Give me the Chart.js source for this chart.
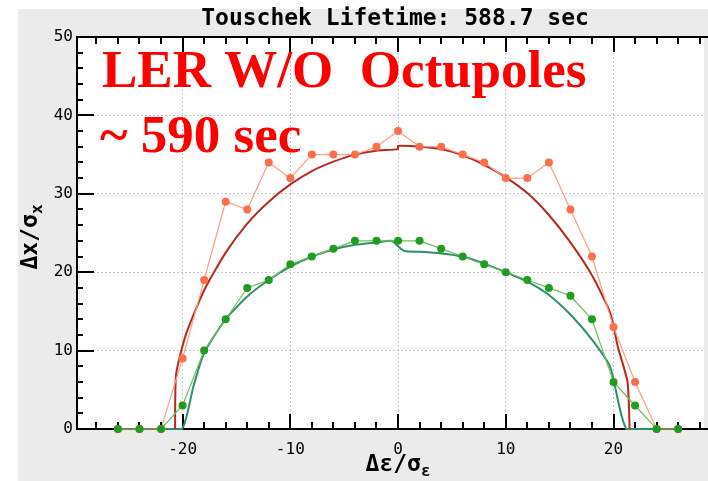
<!DOCTYPE html>
<html>
<head>
<meta charset="utf-8">
<script src="https://cdn.jsdelivr.net/npm/chart.js@4.4.1/dist/chart.umd.min.js"></script>
<style>
  html, body { margin: 0; padding: 0; background: #fff; overflow: hidden; }
  canvas { display: block; }
</style>
</head>
<body>
<canvas id="chart" width="708" height="481"></canvas>
<script>
// measured points (even steps of delta-e / sigma-e)
const xPoints = [-26, -24, -22, -20, -18, -16, -14, -12, -10, -8, -6, -4, -2, 0,
                 2, 4, 6, 8, 10, 12, 14, 16, 18, 20, 22, 24, 26];
const orangeY = [0, 0, 0, 9, 19, 29, 28, 34, 32, 35, 35, 35, 36, 38,
                 36, 36, 35, 34, 32, 32, 34, 28, 22, 13, 6, 0, 0];
const greenY = [0, 0, 0, 3, 10, 14, 18, 19, 21, 22, 23, 24, 24, 24,
                24, 23, 22, 21, 20, 19, 18, 17, 14, 6, 3, 0, 0];

// smooth curves
const redCurveX = [-20.7, -20.6, -19.7, -18, -16, -14, -12, -10, -8, -6, -4, -2, 0, 0,
                   2, 4, 6, 8, 10, 12, 14, 16, 18, 19.7, 20.4, 21.3, 21.5];
const redCurveY = [0, 7, 12, 17.7, 22.5, 26.2, 29, 31.2, 32.9, 34.1, 35, 35.5, 35.7, 36.1,
                   36, 35.7, 34.9, 33.7, 32.1, 30.1, 27.3, 23.8, 19.6, 14.8, 10.5, 6, 0];
const tealCurveX = [-22, -20.05, -19, -18, -16, -14, -12, -10, -8, -6, -4, -2, -0.6, 0, 0.6,
                    2, 4, 6, 8, 10, 12, 14, 16, 18, 19.7, 21.2, 24];
const tealCurveY = [0, 0, 5.4, 9.7, 14, 16.9, 19, 20.7, 22, 22.9, 23.5, 23.8, 24, 23.3, 22.7,
                    22.6, 22.4, 22, 21.1, 20, 18.8, 17.1, 14.6, 11.4, 7.9, 0, 0];

const xTicks = [-20, -10, 0, 10, 20];
const yTicks = [0, 10, 20, 30, 40, 50];

const titleText = "Touschek Lifetime: 588.7 sec";
const noteLines = ["LER W/O  Octupoles", "~ 590 sec"];

function pairs(xs, ys) {
  return xs.map((x, i) => ({ x: x, y: ys[i] }));
}

function drawSub(ctx, main, sub, x, y, size) {
  // main text + lowered subscript, centred on x
  const subSize = Math.round(size * 0.7);
  ctx.font = "bold " + size + "px 'DejaVu Sans Mono'";
  const w1 = ctx.measureText(main).width;
  ctx.font = "bold " + subSize + "px 'DejaVu Sans Mono'";
  const w2 = ctx.measureText(sub).width;
  const left = x - (w1 + w2) / 2;
  ctx.textAlign = "left";
  ctx.textBaseline = "middle";
  ctx.font = "bold " + size + "px 'DejaVu Sans Mono'";
  ctx.fillText(main, left, y);
  ctx.font = "bold " + subSize + "px 'DejaVu Sans Mono'";
  ctx.fillText(sub, left + w1, y + size * 0.3);
}

const decor = {
  id: "decor",
  beforeDraw(chart) {
    const ctx = chart.ctx, a = chart.chartArea;
    ctx.save();
    ctx.fillStyle = "#ffffff";
    ctx.fillRect(0, 0, chart.width, chart.height);
    ctx.fillStyle = "#ebebeb";
    ctx.fillRect(18, 9, chart.width - 18, chart.height - 9);
    ctx.fillStyle = "#ffffff";
    ctx.fillRect(a.left, a.top, a.right - a.left, a.bottom - a.top);
    ctx.restore();
  },
  beforeDatasetsDraw(chart) {
    const ctx = chart.ctx, a = chart.chartArea;
    const xs = chart.scales.x, ys = chart.scales.y;
    ctx.save();
    ctx.strokeStyle = "#000";
    ctx.lineWidth = 2;
    ctx.setLineDash([]);
    ctx.beginPath();
    ctx.moveTo(chart.width + 2, a.top);
    ctx.lineTo(a.left, a.top);
    ctx.lineTo(a.left, a.bottom);
    ctx.lineTo(chart.width + 2, a.bottom);
    ctx.stroke();

    // x ticks, bottom and top
    for (let v = -28; v <= 28; v += 2) {
      const px = Math.round(xs.getPixelForValue(v));
      if (px <= a.left + 1 || px > a.right) continue;
      const len = v % 10 === 0 ? 15 : 7;
      ctx.beginPath();
      ctx.moveTo(px, a.bottom);
      ctx.lineTo(px, a.bottom - len);
      ctx.moveTo(px, a.top);
      ctx.lineTo(px, a.top + len);
      ctx.stroke();
    }
    // y ticks, left
    for (let v = 2; v < 50; v += 2) {
      const py = Math.round(ys.getPixelForValue(v));
      const len = v % 10 === 0 ? 17 : 6;
      ctx.beginPath();
      ctx.moveTo(a.left, py);
      ctx.lineTo(a.left + len, py);
      ctx.stroke();
    }
    ctx.restore();
  },
  afterDraw(chart) {
    const ctx = chart.ctx, a = chart.chartArea;
    const xs = chart.scales.x;
    const cx = xs.getPixelForValue(0);
    ctx.save();
    ctx.fillStyle = "#000";
    ctx.textAlign = "center";
    ctx.textBaseline = "middle";
    ctx.font = "bold 23px 'DejaVu Sans Mono'";
    ctx.fillText(titleText, cx - 3, 19);

    drawSub(ctx, "\u0394\u03b5/\u03c3", "\u03b5", cx, 465, 23);

    ctx.translate(31, (a.top + a.bottom) / 2 + 4);
    ctx.rotate(-Math.PI / 2);
    drawSub(ctx, "\u0394x/\u03c3", "x", 0, 0, 23);
    ctx.restore();

    ctx.save();
    ctx.fillStyle = "#ff0000";
    ctx.textAlign = "left";
    ctx.textBaseline = "alphabetic";
    ctx.font = "bold 53px 'Liberation Serif'";
    ctx.fillText(noteLines[0], 102, 87);
    ctx.fillText(noteLines[1], 100, 152);
    ctx.restore();
  }
};

new Chart(document.getElementById("chart"), {
  type: "scatter",
  data: {
    datasets: [
      {
        data: pairs(xPoints, greenY),
        showLine: true,
        borderColor: "#6cbf5c",
        borderWidth: 1.2,
        pointRadius: 4,
        pointBackgroundColor: "#239a23",
        pointBorderWidth: 0,
        clip: 8
      },
      {
        data: pairs(xPoints, orangeY),
        showLine: true,
        borderColor: "#ff9c84",
        borderWidth: 1.2,
        pointRadius: 4,
        pointBackgroundColor: "#ff6e4c",
        pointBorderWidth: 0,
        clip: 8
      },
      {
        data: pairs(redCurveX, redCurveY),
        showLine: true,
        borderColor: "#b8281f",
        borderWidth: 2,
        pointRadius: 0,
        tension: 0.2,
        clip: 8
      },
      {
        data: pairs(tealCurveX, tealCurveY),
        showLine: true,
        borderColor: "#2f8f6a",
        borderWidth: 2,
        pointRadius: 0,
        tension: 0.2,
        clip: 8
      }
    ]
  },
  options: {
    responsive: false,
    animation: false,
    devicePixelRatio: 1,
    layout: { padding: { top: 37, left: 0, right: 0, bottom: 0 } },
    plugins: {
      legend: { display: false },
      title: { display: false },
      tooltip: { enabled: false }
    },
    scales: {
      x: {
        type: "linear",
        min: -29.8,
        max: 28.4,
        afterBuildTicks: s => { s.ticks = xTicks.map(v => ({ value: v })); },
        afterFit: s => { s.height = 52; },
        grid: { color: "#c8c8c8", lineWidth: 1, drawTicks: false },
        border: { display: false, dash: [2, 2] },
        ticks: {
          padding: 11,
          color: "#000",
          maxRotation: 0,
          autoSkip: false,
          font: { family: "'DejaVu Sans Mono'", size: 16 }
        }
      },
      y: {
        min: 0,
        max: 50,
        afterBuildTicks: s => { s.ticks = yTicks.map(v => ({ value: v })); },
        afterFit: s => { s.width = 77; },
        grid: { color: "#c8c8c8", lineWidth: 1, drawTicks: false },
        border: { display: false, dash: [2, 2] },
        ticks: {
          padding: 4,
          color: "#000",
          font: { family: "'DejaVu Sans Mono'", size: 16 }
        }
      }
    }
  },
  plugins: [decor]
});
</script>
</body>
</html>
